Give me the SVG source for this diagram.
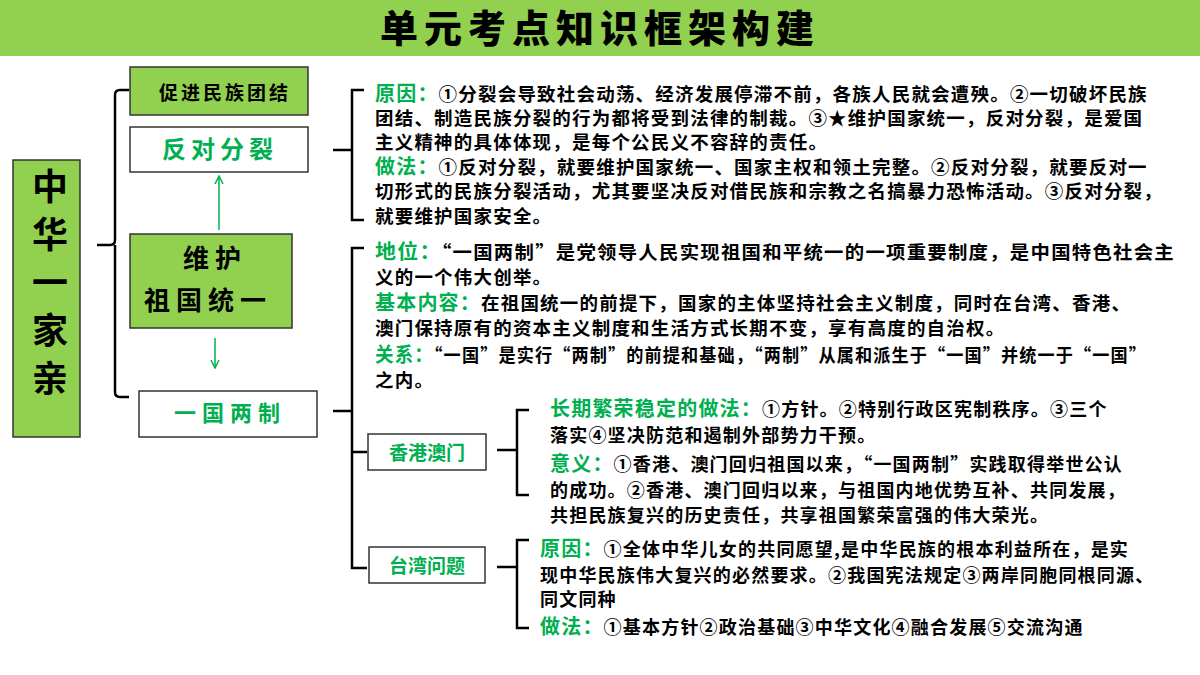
<svg xmlns="http://www.w3.org/2000/svg" width="1200" height="675" viewBox="0 0 1200 675">
<defs>
<style>
text{font-family:"Noto Sans CJK SC","Noto Sans",sans-serif;font-weight:700;fill:#000}
.b{font-size:18.5px;letter-spacing:1.2px}
.s{font-size:18px;letter-spacing:1.2px}
.h{fill:#00b050;font-size:20px}
.g{fill:#92d050;stroke:#333;stroke-width:1.5}
.w{fill:#fff;stroke:#333;stroke-width:1.5}
.gt{fill:#00b050}
.ln{fill:none;stroke:#000;stroke-width:2.5}
.ar{stroke:#00b050;stroke-width:1.5;fill:none}
</style>
<marker id="a" viewBox="0 0 10 10" refX="9" refY="5" markerWidth="10" markerHeight="10" orient="auto" markerUnits="userSpaceOnUse"><path d="M1 1L9 5L1 9" fill="none" stroke="#00b050" stroke-width="1.5"/></marker>
</defs>
<rect x="0" y="0" width="1200" height="56" fill="#92d050"/>
<text x="600" y="42" text-anchor="middle" font-size="38" style="font-weight:900" letter-spacing="6">单元考点知识框架构建</text>
<g id="connectors">
<path class="ln" d="M97 245H110Q115 245 115 240V95Q115 90 120 90H129M115 245V392Q115 397 120 397H129"/>
<path class="ar" d="M219 230V176" marker-end="url(#a)"/>
<path class="ar" d="M215 338V368" marker-end="url(#a)"/>
<path class="ln" d="M333 150H352M364 90H352V220H364"/>
<path class="ln" d="M333 411H352M364 248H352V568H367M352 452H367"/>
<path class="ln" d="M497 450H517M529 410H517V495H529"/>
<path class="ln" d="M497 567H517M529 540H517V628H529"/>
</g>
<g id="n-zhonghua"><rect class="g" x="13" y="160" width="67" height="277"/>
<text x="50" y="200" text-anchor="middle" font-size="36">中</text><text x="50" y="248" text-anchor="middle" font-size="36">华</text><text x="50" y="296" text-anchor="middle" font-size="36">一</text><text x="50" y="344" text-anchor="middle" font-size="36">家</text><text x="50" y="392" text-anchor="middle" font-size="36">亲</text></g>
<g id="n-cujin"><rect class="g" x="130" y="67" width="178" height="48"/><text x="225" y="100" text-anchor="middle" font-size="19" letter-spacing="3">促进民族团结</text></g>
<g id="n-fandui"><rect class="w" x="130" y="127" width="178" height="45"/><text class="gt" x="220" y="158" text-anchor="middle" font-size="24" letter-spacing="5">反对分裂</text></g>
<g id="n-weihu"><rect class="g" x="130" y="234" width="162" height="94"/><text x="215" y="268" text-anchor="middle" font-size="26" letter-spacing="6">维护</text><text x="208" y="310" text-anchor="middle" font-size="26" letter-spacing="6">祖国统一</text></g>
<g id="n-yiguo"><rect class="w" x="139" y="391" width="178" height="46"/><text class="gt" x="230" y="421" text-anchor="middle" font-size="22" letter-spacing="6">一国两制</text></g>
<g id="n-xianggang"><rect class="w" x="368" y="434" width="118" height="36"/><text class="gt" x="427" y="460" text-anchor="middle" font-size="19">香港澳门</text></g>
<g id="n-taiwan"><rect class="w" x="369" y="547" width="116" height="36"/><text class="gt" x="427" y="573" text-anchor="middle" font-size="19">台湾问题</text></g>
<g id="t1">
<text class="b" x="375" y="101"><tspan class="h">原因：</tspan>①分裂会导致社会动荡、经济发展停滞不前，各族人民就会遭殃。②一切破坏民族</text>
<text class="b" x="375" y="125">团结、制造民族分裂的行为都将受到法律的制裁。③★维护国家统一，反对分裂，是爱国</text>
<text class="b" x="375" y="149">主义精神的具体体现，是每个公民义不容辞的责任。</text>
<text class="b" x="375" y="174"><tspan class="h">做法：</tspan>①反对分裂，就要维护国家统一、国家主权和领土完整。②反对分裂，就要反对一</text>
<text class="b" x="375" y="198">切形式的民族分裂活动，尤其要坚决反对借民族和宗教之名搞暴力恐怖活动。③反对分裂，</text>
<text class="b" x="375" y="223">就要维护国家安全。</text>
</g>
<g id="t2">
<text class="b" x="375" y="259" textLength="800" lengthAdjust="spacingAndGlyphs"><tspan class="h">地位：</tspan>“一国两制”是党领导人民实现祖国和平统一的一项重要制度，是中国特色社会主</text>
<text class="b" x="375" y="284">义的一个伟大创举。</text>
<text class="b" x="375" y="310"><tspan class="h">基本内容：</tspan>在祖国统一的前提下，国家的主体坚持社会主义制度，同时在台湾、香港、</text>
<text class="b" x="375" y="335">澳门保持原有的资本主义制度和生活方式长期不变，享有高度的自治权。</text>
<text class="b" x="375" y="362" textLength="772" lengthAdjust="spacingAndGlyphs"><tspan class="h">关系：</tspan>“一国”是实行“两制”的前提和基础，“两制”从属和派生于“一国”并统一于“一国”</text>
<text class="b" x="375" y="387">之内。</text>
</g>
<g id="t3">
<text class="s" x="550" y="416"><tspan class="h">长期繁荣稳定的做法：</tspan>①方针。②特别行政区宪制秩序。③三个</text>
<text class="s" x="550" y="442">落实④坚决防范和遏制外部势力干预。</text>
<text class="s" x="550" y="471"><tspan class="h">意义：</tspan>①香港、澳门回归祖国以来，“一国两制”实践取得举世公认</text>
<text class="s" x="550" y="497">的成功。②香港、澳门回归以来，与祖国内地优势互补、共同发展，</text>
<text class="s" x="550" y="522">共担民族复兴的历史责任，共享祖国繁荣富强的伟大荣光。</text>
</g>
<g id="t4">
<text class="s" x="540" y="556"><tspan class="h">原因：</tspan>①全体中华儿女的共同愿望,是中华民族的根本利益所在，是实</text>
<text class="s" x="540" y="582">现中华民族伟大复兴的必然要求。②我国宪法规定③两岸同胞同根同源、</text>
<text class="s" x="540" y="606">同文同种</text>
<text class="s" x="540" y="634"><tspan class="h">做法：</tspan>①基本方针②政治基础③中华文化④融合发展⑤交流沟通</text>
</g>
</svg>
